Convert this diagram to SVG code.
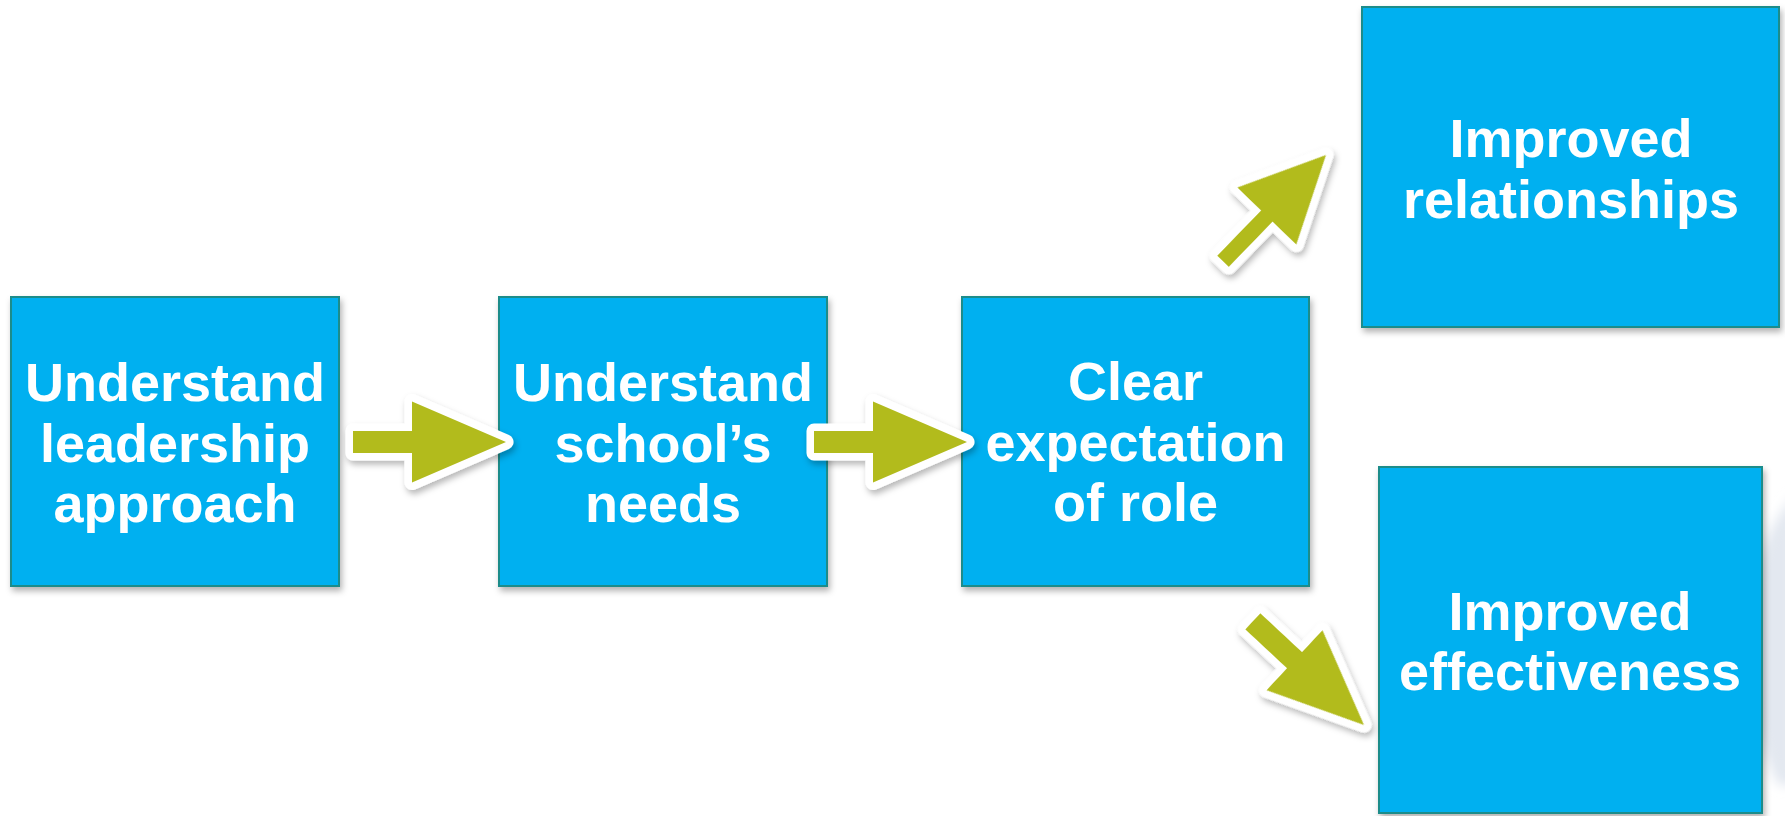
<svg xmlns="http://www.w3.org/2000/svg" width="1785" height="816" viewBox="0 0 1785 816">
  <defs>
    <filter id="boxShadow" x="-10%" y="-10%" width="125%" height="125%">
      <feDropShadow dx="2" dy="4" stdDeviation="3" flood-color="#000" flood-opacity="0.3"/>
    </filter>
    <filter id="arrowShadow" x="-20%" y="-20%" width="150%" height="150%">
      <feDropShadow dx="2" dy="4" stdDeviation="3" flood-color="#000" flood-opacity="0.28"/>
    </filter>
    <filter id="haze" x="-50%" y="-50%" width="200%" height="200%">
      <feGaussianBlur stdDeviation="6"/>
    </filter>
    <!-- block arrow pointing +x, tip at origin -->
    <polygon id="arrowWide" points="0,0 -94,-40.5 -94,-11 -153,-11 -153,11 -94,11 -94,40.5"/>
  </defs>
  <style>
    .box { fill: #00B0F0; stroke: #1E8C8A; stroke-width: 2; }
    .label { font-family: "Liberation Sans", Arial, Helvetica, sans-serif; font-weight: bold; font-size: 54px; fill: #FFFFFF; text-anchor: middle; }
    .arrow { fill: #B2BB1E; stroke: #FFFFFF; stroke-width: 15; stroke-linejoin: round; paint-order: stroke; }
  </style>

  <rect width="1785" height="816" fill="#FFFFFF"/>

  <!-- faint backdrop shape at the right edge -->
  <path d="M1795,495 C1735,560 1730,690 1778,785 L1795,785 Z" fill="#E3E8F0" filter="url(#haze)"/>

  <g id="node-leadership">
    <rect class="box" x="11" y="297" width="328" height="289" filter="url(#boxShadow)"/>
    <text class="label" x="175" y="401">Understand</text>
    <text class="label" x="175" y="462">leadership</text>
    <text class="label" x="175" y="522">approach</text>
  </g>

  <g id="node-school-needs">
    <rect class="box" x="499" y="297" width="328" height="289" filter="url(#boxShadow)"/>
    <text class="label" x="663" y="401">Understand</text>
    <text class="label" x="663" y="462">school’s</text>
    <text class="label" x="663" y="522">needs</text>
  </g>

  <g id="node-clear-role">
    <rect class="box" x="962" y="297" width="347" height="289" filter="url(#boxShadow)"/>
    <text class="label" x="1135.5" y="400">Clear</text>
    <text class="label" x="1135.5" y="461">expectation</text>
    <text class="label" x="1135.5" y="521">of role</text>
  </g>

  <g id="node-relationships">
    <rect class="box" x="1362" y="7" width="417" height="320" filter="url(#boxShadow)"/>
    <text class="label" x="1571" y="157">Improved</text>
    <text class="label" x="1571" y="218">relationships</text>
  </g>

  <g id="node-effectiveness">
    <rect class="box" x="1379" y="467" width="383" height="346" filter="url(#boxShadow)"/>
    <text class="label" x="1570" y="630">Improved</text>
    <text class="label" x="1570" y="690">effectiveness</text>
  </g>

  <g id="connectors" filter="url(#arrowShadow)">
    <use href="#arrowWide" class="arrow" transform="translate(506,442)"/>
    <use href="#arrowWide" class="arrow" transform="translate(967,442)"/>
    <polygon class="arrow" transform="translate(1326,155) rotate(-45.9)" points="0,0 -85,-41 -85,-8 -148,-8 -148,8 -85,8 -85,41"/>
    <polygon class="arrow" transform="translate(1364,725) rotate(43)" points="0,0 -95,-41 -95,-11 -152,-11 -152,11 -95,11 -95,41"/>
  </g>
</svg>
